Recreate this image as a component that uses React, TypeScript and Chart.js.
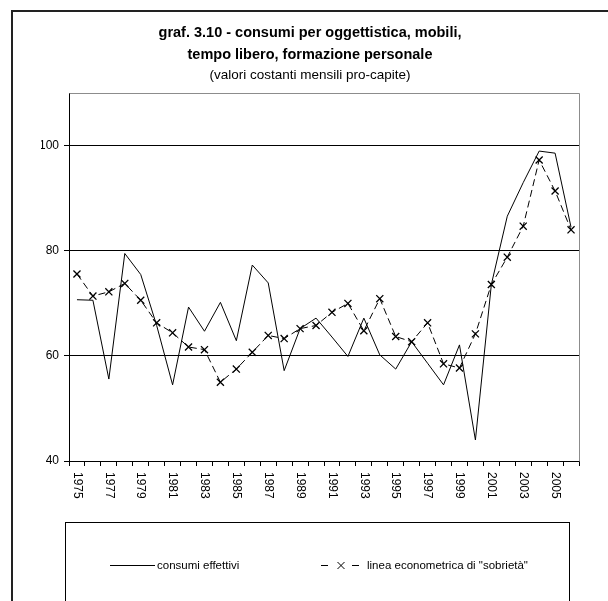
import React, { useEffect, useRef } from 'react';
import { Chart, registerables } from 'chart.js';

Chart.register(...registerables);

const years = [
  '1975', '1976', '1977', '1978', '1979', '1980', '1981', '1982', '1983', '1984',
  '1985', '1986', '1987', '1988', '1989', '1990', '1991', '1992', '1993', '1994',
  '1995', '1996', '1997', '1998', '1999', '2000', '2001', '2002', '2003', '2004',
  '2005', '2006',
];

const consumiEffettivi = [
  70.7, 70.6, 55.6, 79.5, 75.5, 65.8, 54.5, 69.3, 64.7, 70.2,
  62.9, 77.3, 73.9, 57.2, 65.2, 67.2, 63.6, 59.9, 67.2, 60.2,
  57.5, 62.7, 58.6, 54.5, 62.1, 44.0, 73.6, 86.6, 93.0, 99.0,
  98.6, 84.5,
];

const lineaSobrieta = [
  75.6, 71.4, 72.2, 73.8, 70.6, 66.3, 64.4, 61.7, 61.2, 55.0,
  57.5, 60.7, 63.9, 63.3, 65.2, 65.8, 68.3, 70.0, 64.8, 70.9,
  63.7, 62.7, 66.3, 58.5, 57.7, 64.2, 73.6, 78.8, 84.7, 97.3,
  91.4, 84.0,
];

const yTickValues = [40, 60, 80, 100];
const yMin = 40;
const yMax = 110;

const titleLines = [
  'graf. 3.10 - consumi per oggettistica, mobili,',
  'tempo libero, formazione personale',
];
const subtitleText = '(valori costanti mensili pro-capite)';
const seriesLabels = ['consumi effettivi', 'linea econometrica di "sobrietà"'];

const FONT = '"Liberation Sans", Arial, Helvetica, sans-serif';

const decorPlugin = {
  id: 'decor',
  beforeDraw(chart: any) {
    const ctx = chart.ctx;
    ctx.save();
    ctx.fillStyle = '#ffffff';
    ctx.fillRect(0, 0, chart.width, chart.height);
    ctx.restore();
  },
  afterDraw(chart: any) {
    const ctx = chart.ctx;
    const { left, right, top, bottom } = chart.chartArea;
    ctx.save();

    // plot area border (top & right)
    ctx.strokeStyle = '#8c8c8c';
    ctx.lineWidth = 1;
    ctx.beginPath();
    ctx.moveTo(Math.round(left) + 0.5, Math.round(top) + 0.5);
    ctx.lineTo(Math.round(right) + 0.5, Math.round(top) + 0.5);
    ctx.lineTo(Math.round(right) + 0.5, Math.round(bottom) + 0.5);
    ctx.stroke();

    // outer frame (left & top, cut off at right and bottom)
    ctx.strokeStyle = '#222222';
    ctx.lineWidth = 2;
    ctx.beginPath();
    ctx.moveTo(12, chart.height + 2);
    ctx.lineTo(12, 11);
    ctx.lineTo(chart.width + 2, 11);
    ctx.stroke();

    // x labels rotated (reading top to bottom)
    const xs = chart.scales.x;
    ctx.fillStyle = '#000000';
    ctx.font = `12px ${FONT}`;
    years.forEach((label, i) => {
      if (i % 2 !== 0) return;
      const x = xs.getPixelForValue(i);
      ctx.save();
      ctx.translate(x, bottom + 11);
      ctx.rotate(Math.PI / 2);
      ctx.textAlign = 'left';
      ctx.textBaseline = 'middle';
      ctx.fillText(label, 0, 0);
      ctx.restore();
    });

    // legend box
    ctx.strokeStyle = '#000000';
    ctx.lineWidth = 1;
    ctx.strokeRect(65.5, 522.5, 504, 120);

    const ly = 565.5;
    ctx.font = `11.5px ${FONT}`;
    ctx.textBaseline = 'middle';
    ctx.textAlign = 'left';
    // series 1
    ctx.beginPath();
    ctx.moveTo(110, ly);
    ctx.lineTo(155, ly);
    ctx.stroke();
    ctx.fillText(chart.data.datasets[0].label, 157, ly);
    // series 2
    ctx.beginPath();
    ctx.moveTo(321, ly);
    ctx.lineTo(328, ly);
    ctx.moveTo(352, ly);
    ctx.lineTo(359, ly);
    // cross
    ctx.moveTo(337.5, ly - 3.5);
    ctx.lineTo(344.5, ly + 3.5);
    ctx.moveTo(337.5, ly + 3.5);
    ctx.lineTo(344.5, ly - 3.5);
    ctx.stroke();
    ctx.fillText(chart.data.datasets[1].label, 367, ly);

    ctx.restore();
  },
};

export default function App() {
  const canvasRef = useRef<HTMLCanvasElement | null>(null);

  useEffect(() => {
    document.body.style.margin = '0';
    const canvas = canvasRef.current;
    if (!canvas) return;
    const chart = new Chart(canvas, {
      type: 'line',
      data: {
        labels: years,
        datasets: [
          {
            label: seriesLabels[0],
            data: consumiEffettivi,
            borderColor: '#000000',
            borderWidth: 1,
            pointRadius: 0,
            tension: 0,
            fill: false,
          },
          {
            label: seriesLabels[1],
            data: lineaSobrieta,
            borderColor: '#000000',
            borderWidth: 1,
            borderDash: [7, 4],
            pointStyle: 'crossRot',
            pointRadius: 5,
            pointBorderWidth: 1.3,
            pointBorderColor: '#000000',
            pointBackgroundColor: '#000000',
            tension: 0,
            fill: false,
          },
        ],
      },
      options: {
        responsive: false,
        animation: false,
        devicePixelRatio: 1,
        layout: { padding: { left: 41, right: 29, top: 0, bottom: 0 } },
        plugins: {
          legend: { display: false },
          tooltip: { enabled: false },
          title: {
            display: true,
            text: titleLines,
            color: '#000000',
            font: { family: FONT, size: 14.5, weight: 'bold', lineHeight: 1.52 },
            padding: { top: 22, bottom: 0 },
          },
          subtitle: {
            display: true,
            text: subtitleText,
            color: '#000000',
            font: { family: FONT, size: 13.5, weight: 'normal', lineHeight: 1.2 },
            padding: { top: 1, bottom: 10 },
          },
        },
        scales: {
          x: {
            type: 'category',
            offset: true,
            afterFit: (s: any) => { s.height = 140; },
            grid: {
              offset: true,
              drawOnChartArea: false,
              drawTicks: true,
              tickLength: 5,
              color: '#000000',
              lineWidth: 1,
            },
            border: { display: true, color: '#000000', width: 1 },
            ticks: { display: false, autoSkip: false },
          },
          y: {
            min: yMin,
            max: yMax,
            afterFit: (s: any) => { s.width = 28; },
            afterBuildTicks: (s: any) => {
              s.ticks = yTickValues.map((v) => ({ value: v }));
            },
            grid: {
              color: '#000000',
              lineWidth: 1,
              drawTicks: true,
              tickLength: 5,
            },
            border: { display: true, color: '#000000', width: 1 },
            ticks: {
              color: '#000000',
              padding: 5,
              font: { family: FONT, size: 12 },
            },
          },
        },
      },
      plugins: [decorPlugin],
    } as any);
    return () => chart.destroy();
  }, []);

  return (
    <canvas ref={canvasRef} width={608} height={601} style={{ display: 'block' }} />
  );
}
